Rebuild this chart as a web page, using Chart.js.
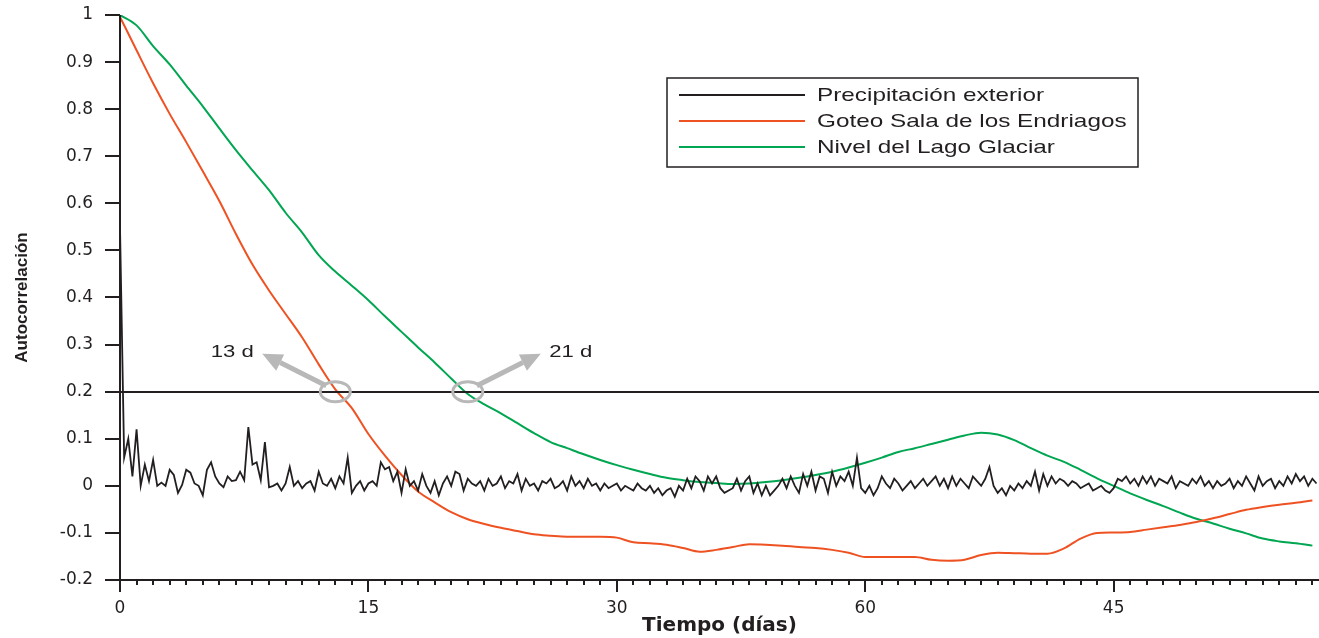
<!DOCTYPE html>
<html lang="es">
<head>
<meta charset="utf-8">
<title>Autocorrelación</title>
<script src="https://cdn.jsdelivr.net/npm/chart.js@4.4.1/dist/chart.umd.min.js"></script>
<style>
  html, body { margin: 0; padding: 0; background: #fff; }
  #marco { position: relative; width: 1319px; height: 638px; }
</style>
</head>
<body>
<div id="marco"><canvas id="grafico"></canvas></div>
<script>
// Series
const etiquetas = ['Precipitación exterior', 'Goteo Sala de los Endriagos', 'Nivel del Lago Glaciar'];
const colores = ['#231f20', '#ef5222', '#00a651'];

// Precipitación exterior, un valor cada 0.25 días
const pasoPrecip = 0.25;
const precipitacion = [
  0.55, 0.06, 0.10, 0.02,   0.12, 0.00, 0.045, 0.01,   0.055, 0.00, 0.007, 0.00,
  0.034, 0.023, -0.015, 0.002,   0.034, 0.028, 0.005, 0.00,   -0.02, 0.034, 0.05, 0.02,
  0.005, -0.003, 0.02, 0.01,   0.012, 0.03, 0.012, 0.125,   0.045, 0.05, 0.012, 0.093,
  -0.003, 0.00, 0.005, -0.01,   0.005, 0.04, 0.00, 0.01,   -0.005, 0.005, 0.01, -0.01,
  0.03, 0.005, 0.00, 0.015,   -0.005, 0.02, 0.005, 0.06,   -0.015, 0.00, 0.01, -0.01,
  0.005, 0.01, 0.00, 0.05,   0.035, 0.04, 0.01, 0.03,   -0.015, 0.035, 0.00, 0.01,
  -0.01, 0.025, 0.00, -0.015,   0.01, -0.02, 0.005, 0.02,   0.00, 0.03, 0.025, -0.01,
  0.015, 0.005, 0.00, 0.01,   -0.01, 0.015, 0.00, 0.005,   0.02, -0.005, 0.01, 0.005,
  0.025, -0.01, 0.015, 0.00,   0.005, -0.01, 0.01, 0.005,   0.015, -0.005, 0.00, 0.01,
  -0.01, 0.02, 0.00, 0.01,   -0.005, 0.015, 0.00, 0.005,   -0.01, 0.005, -0.005, 0.00,
  0.005, -0.01, 0.00, -0.005,   -0.01, 0.005, -0.005, -0.01,   0.00, -0.015, -0.005, -0.02,
  -0.01, -0.005, -0.023, 0.00,   -0.01, 0.015, -0.005, 0.02,   0.01, -0.01, 0.02, 0.005,
  0.02, -0.005, -0.015, -0.01,   -0.005, 0.015, -0.01, 0.01,   0.02, -0.015, 0.005, -0.02,
  0.00, -0.02, -0.01, 0.00,   0.015, -0.005, 0.02, 0.00,   -0.015, 0.025, 0.00, 0.03,
  -0.01, 0.02, 0.015, -0.015,   0.03, 0.00, 0.02, 0.01,   0.03, 0.00, 0.06, -0.005,
  -0.015, 0.00, -0.02, -0.005,   0.02, 0.005, -0.005, 0.015,   0.005, -0.01, 0.00, 0.01,
  -0.005, 0.005, 0.015, 0.00,   0.01, 0.02, 0.00, 0.015,   -0.005, 0.02, 0.00, 0.015,
  0.005, -0.005, 0.02, 0.01,   0.00, 0.015, 0.04, 0.00,   -0.015, -0.005, -0.02, 0.00,
  -0.01, 0.005, -0.005, 0.01,   0.00, 0.03, -0.01, 0.025,   0.00, 0.02, 0.005, 0.015,
  0.01, 0.00, 0.01, 0.005,   -0.005, 0.00, 0.005, -0.01,   -0.005, 0.00, -0.01, -0.015,
  -0.005, 0.015, 0.01, 0.02,   0.005, 0.015, 0.00, 0.02,   0.005, 0.02, 0.00, 0.015,
  0.01, 0.005, 0.02, -0.005,   0.01, 0.005, 0.00, 0.015,   0.005, 0.02, 0.00, 0.01,
  -0.005, 0.01, 0.00, 0.005,   0.015, -0.005, 0.01, 0.00,   0.02, 0.005, -0.01, 0.02,
  0.00, 0.01, 0.015, -0.005,   0.01, 0.00, 0.02, 0.005,   0.025, 0.01, 0.02, 0.00,
  0.015, 0.005
];

// Goteo y nivel del lago, un valor por día (0..72)
const pasoCurvas = 1;
const goteo = [
  0.996, 0.925, 0.855, 0.79, 0.73, 0.668, 0.605, 0.535, 0.47, 0.415,
  0.365, 0.315, 0.258, 0.205, 0.165, 0.11, 0.064, 0.023, -0.012, -0.035,
  -0.056, -0.071, -0.081, -0.089, -0.096, -0.103, -0.106, -0.108, -0.108, -0.108,
  -0.11, -0.12, -0.122, -0.125, -0.132, -0.14, -0.136, -0.13, -0.124, -0.125,
  -0.127, -0.13, -0.132, -0.136, -0.142, -0.151, -0.151, -0.151, -0.151, -0.157,
  -0.159, -0.157, -0.147, -0.142, -0.143, -0.144, -0.144, -0.133, -0.112, -0.1,
  -0.099, -0.098, -0.093, -0.088, -0.083, -0.077, -0.069, -0.06, -0.051, -0.045,
  -0.04, -0.036, -0.031
];
const nivelLago = [
  1.0, 0.978, 0.934, 0.895, 0.85, 0.806, 0.759, 0.713, 0.67, 0.628,
  0.58, 0.538, 0.49, 0.455, 0.425, 0.394, 0.36, 0.327, 0.294, 0.262,
  0.228, 0.195, 0.173, 0.154, 0.133, 0.112, 0.093, 0.08, 0.067, 0.055,
  0.044, 0.034, 0.025, 0.017, 0.012, 0.008, 0.006, 0.004, 0.005, 0.008,
  0.012, 0.017, 0.023, 0.03, 0.039, 0.049, 0.06, 0.072, 0.08, 0.089,
  0.098, 0.107, 0.113, 0.109, 0.097, 0.08, 0.064, 0.051, 0.034, 0.016,
  0.0, -0.016, -0.03, -0.043, -0.057, -0.07, -0.08, -0.091, -0.101, -0.112,
  -0.118, -0.122, -0.127
];

// Ejes
const diasMax = 72.4;
const xTicks = [0, 15, 30, 45, 60];
const xEtiquetas = ['0', '15', '30', '60', '45'];
const yTicks = [-0.2, -0.1, 0, 0.1, 0.2, 0.3, 0.4, 0.5, 0.6, 0.7, 0.8, 0.9, 1];

// Umbral y cruces marcados
const umbral = 0.2;
const diasCruce = [13, 21];
const textosCruce = ['13 d', '21 d'];

const aPuntos = (valores, paso) => valores.map((v, i) => ({ x: i * paso, y: v }));

// Ejes dibujados a mano: ticks mayores y menores, línea del umbral
const ejesPlugin = {
  id: 'ejes',
  afterDatasetsDraw(chart) {
    const { ctx, chartArea: a, scales: { x, y } } = chart;
    ctx.save();
    ctx.strokeStyle = '#231f20';
    ctx.lineWidth = 2;
    const linea = (x1, y1, x2, y2) => {
      ctx.beginPath(); ctx.moveTo(x1, y1); ctx.lineTo(x2, y2); ctx.stroke();
    };
    // umbral
    const yu = Math.round(y.getPixelForValue(umbral));
    linea(a.left, yu, a.right, yu);
    // eje y y sus ticks
    linea(a.left, a.top, a.left, a.bottom + 12);
    yTicks.forEach(v => {
      const py = Math.round(y.getPixelForValue(v));
      linea(a.left - 15, py, a.left, py);
    });
    // eje x y sus ticks
    linea(a.left - 15, a.bottom, a.right, a.bottom);
    for (let d = 1; d <= Math.floor(diasMax); d++) {
      const px = Math.round(x.getPixelForValue(d));
      linea(px, a.bottom, px, a.bottom + (d % 15 === 0 ? 12 : 5));
    }
    ctx.restore();
  }
};

// Anotaciones: círculos en los cruces, flechas y textos
const anotacionesPlugin = {
  id: 'anotaciones',
  afterDatasetsDraw(chart) {
    const { ctx, scales: { x, y } } = chart;
    const gris = '#b8b8b8';
    ctx.save();
    diasCruce.forEach((dia, i) => {
      const cx = x.getPixelForValue(dia);
      const cy = y.getPixelForValue(umbral);
      const lado = i === 0 ? -1 : 1;
      // círculo
      ctx.strokeStyle = gris;
      ctx.lineWidth = 3;
      ctx.beginPath();
      ctx.ellipse(cx, cy, 15, 10, 0, 0, Math.PI * 2);
      ctx.stroke();
      // flecha
      const x0 = cx + lado * 9, y0 = cy - 6;
      const x1 = cx + lado * 73, y1 = cy - 38;
      const ang = Math.atan2(y1 - y0, x1 - x0);
      const largo = 20, ancho = 9;
      const bx = x1 - largo * Math.cos(ang), by = y1 - largo * Math.sin(ang);
      ctx.lineWidth = 5;
      ctx.beginPath(); ctx.moveTo(x0, y0); ctx.lineTo(bx, by); ctx.stroke();
      ctx.fillStyle = gris;
      ctx.beginPath();
      ctx.moveTo(x1, y1);
      ctx.lineTo(bx + ancho * Math.sin(ang), by - ancho * Math.cos(ang));
      ctx.lineTo(bx - ancho * Math.sin(ang), by + ancho * Math.cos(ang));
      ctx.closePath();
      ctx.fill();
      // texto
      ctx.fillStyle = '#231f20';
      ctx.font = '17px "Liberation Sans", Arial, sans-serif';
      ctx.textBaseline = 'middle';
      ctx.textAlign = 'center';
      ctx.save();
      ctx.translate(cx + lado * 103, cy - 39);
      ctx.scale(1.3, 1);
      ctx.fillText(textosCruce[i], 0, 0);
      ctx.restore();
    });
    ctx.restore();
  }
};

// Leyenda con recuadro
const leyendaPlugin = {
  id: 'leyendaCaja',
  afterDraw(chart) {
    const { ctx } = chart;
    const caja = { x: 667, y: 78, w: 471, h: 89 };
    ctx.save();
    ctx.fillStyle = '#fff';
    ctx.fillRect(caja.x, caja.y, caja.w, caja.h);
    ctx.strokeStyle = '#231f20';
    ctx.lineWidth = 1.5;
    ctx.strokeRect(caja.x, caja.y, caja.w, caja.h);
    chart.data.datasets.forEach((ds, i) => {
      const fy = caja.y + 17 + i * 26;
      ctx.strokeStyle = ds.borderColor;
      ctx.lineWidth = 2;
      ctx.beginPath(); ctx.moveTo(679, fy); ctx.lineTo(805, fy); ctx.stroke();
      ctx.fillStyle = '#231f20';
      ctx.font = '19px "Liberation Sans", Arial, sans-serif';
      ctx.textBaseline = 'middle';
      ctx.save();
      ctx.translate(817, fy + 1);
      ctx.scale(1.28, 1);
      ctx.fillText(ds.label, 0, 0);
      ctx.restore();
    });
    ctx.restore();
  }
};

const crearGrafico = () => {
  const ctx = document.getElementById('grafico').getContext('2d');
  Chart.defaults.font.family = '"DejaVu Sans", sans-serif';
  Chart.defaults.color = '#231f20';

  new Chart(ctx, {
    type: 'line',
    data: {
      datasets: [
        { label: etiquetas[0], data: aPuntos(precipitacion, pasoPrecip), borderColor: colores[0], borderWidth: 1.8 },
        { label: etiquetas[1], data: aPuntos(goteo, pasoCurvas), borderColor: colores[1], borderWidth: 2, cubicInterpolationMode: 'monotone' },
        { label: etiquetas[2], data: aPuntos(nivelLago, pasoCurvas), borderColor: colores[2], borderWidth: 2, cubicInterpolationMode: 'monotone' }
      ]
    },
    options: {
      responsive: true,
      maintainAspectRatio: false,
      animation: false,
      parsing: false,
      elements: { point: { radius: 0 }, line: { tension: 0 } },
      layout: { padding: { top: 15, right: 0, left: 0, bottom: 0 } },
      plugins: { legend: { display: false }, tooltip: { enabled: false } },
      scales: {
        x: {
          type: 'linear',
          min: 0,
          max: diasMax,
          afterFit: s => {
            s.height = 58;
            s.paddingLeft = 0; s.paddingRight = 0;
          },
          grid: { display: false, drawTicks: false },
          border: { display: false },
          ticks: {
            stepSize: 1,
            autoSkip: false,
            maxRotation: 0,
            padding: 18,
            font: { size: 17 },
            callback: v => {
              const k = xTicks.indexOf(v);
              return k >= 0 ? xEtiquetas[k] : '';
            }
          },
          title: {
            display: true,
            text: 'Tiempo (días)',
            font: { size: 20, weight: 'bold' },
            padding: { top: 0, bottom: 0 }
          }
        },
        y: {
          min: -0.2,
          max: 1,
          afterFit: s => {
            s.width = 120;
            s.paddingTop = 0; s.paddingBottom = 0;
          },
          grid: { display: false, drawTicks: false },
          border: { display: false },
          ticks: {
            stepSize: 0.1,
            padding: 27,
            font: { size: 17 },
            callback: v => String(Number(v.toFixed(1)))
          },
          title: {
            display: true,
            text: 'Autocorrelación',
            font: { family: '"Liberation Sans", Arial, sans-serif', size: 17, weight: 'bold' },
            padding: { top: 12, bottom: 0 }
          }
        }
      }
    },
    plugins: [ejesPlugin, anotacionesPlugin, leyendaPlugin]
  });
};

document.addEventListener('DOMContentLoaded', crearGrafico);
</script>
</body>
</html>
